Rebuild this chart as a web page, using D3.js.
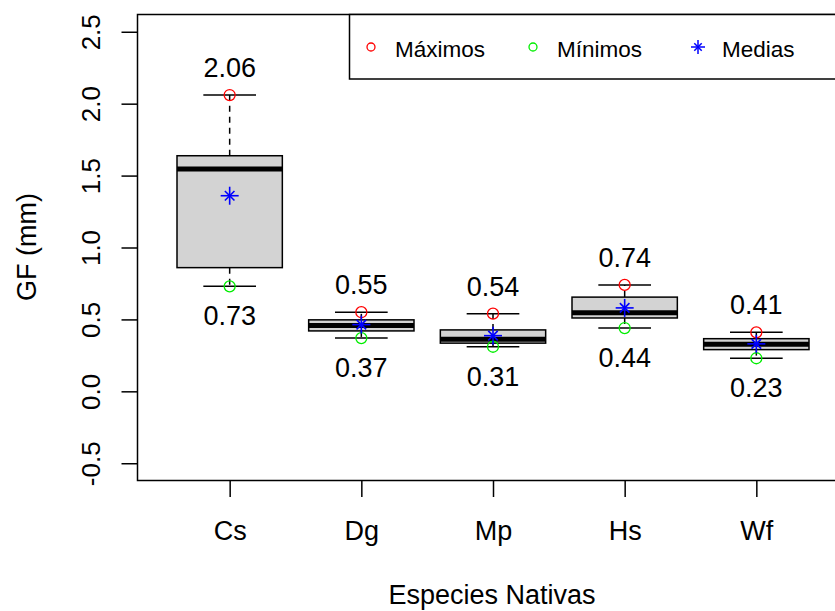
<!DOCTYPE html>
<meta charset="utf-8">
<script src="https://d3js.org/d3.v7.min.js"></script>
<body style="margin:0; background:#fff">
<div id="graph"></div>
</body>
<script>
    // Data
    var species = ["Cs", "Dg", "Mp", "Hs", "Wf"];
    var maxVals = [2.06, 0.55, 0.54, 0.74, 0.41];
    var minVals = [0.73, 0.37, 0.31, 0.44, 0.23];
    var q1 = [0.86, 0.42, 0.335, 0.51, 0.29];
    var medians = [1.545, 0.457, 0.362, 0.546, 0.327];
    var q3 = [1.638, 0.497, 0.427, 0.655, 0.366];
    var means = [1.36, 0.464, 0.387, 0.58, 0.33];
    var yTicks = [-0.5, 0, 0.5, 1, 1.5, 2, 2.5];
    var legendLabels = ["Máximos", "Mínimos", "Medias"];

    var width = 835, height = 611;
    var font = "'Liberation Sans', Arial, sans-serif";

    var svg = d3.select("#graph").append("svg")
        .attr("width", width)
        .attr("height", height)
        .style("font-family", font);

    // Scales (R style: 0.5..n+0.5 extended by 4%)
    var x = d3.scaleLinear().domain([0.3, 5.7]).range([137.5, 848.5]);
    var y = d3.scaleLinear().domain([-0.62, 2.62]).range([480.5, 14.5]);

    var data = species.map(function (s, i) {
        return {name: s, pos: i + 1, max: maxVals[i], min: minVals[i],
                q1: q1[i], med: medians[i], q3: q3[i], mean: means[i]};
    });

    // Y axis
    var yAxis = svg.append("g")
        .attr("transform", "translate(137.5,0)")
        .call(d3.axisLeft(y).tickValues(yTicks).tickSize(16).tickSizeOuter(0)
            .tickFormat(function (d) { return d3.format(".1f")(d).replace("\u2212", "-"); }));
    yAxis.select(".domain").remove();
    yAxis.selectAll(".tick line").attr("stroke", "#000").attr("stroke-width", 1.5);
    yAxis.selectAll(".tick text")
        .attr("x", 0).attr("y", 0)
        .attr("text-anchor", "middle")
        .attr("transform", "translate(-38,0) rotate(-90)")
        .attr("dy", 0)
        .style("font-size", "26px")
        .style("font-family", font)
        .attr("fill", "#000");

    // X axis
    var xAxis = svg.append("g")
        .attr("transform", "translate(0,481)")
        .call(d3.axisBottom(x).tickValues(data.map(function (d) { return d.pos; }))
            .tickSize(16).tickSizeOuter(0)
            .tickFormat(function (d) { return species[d - 1]; }));
    xAxis.select(".domain").remove();
    xAxis.selectAll(".tick line").attr("stroke", "#000").attr("stroke-width", 1.5);
    xAxis.selectAll(".tick text")
        .attr("y", 59).attr("dy", 0)
        .style("font-size", "27px")
        .style("font-family", font)
        .attr("fill", "#000");

    // Axis titles
    svg.append("text")
        .attr("x", 492).attr("y", 604)
        .attr("text-anchor", "middle")
        .style("font-size", "27px")
        .text("Especies Nativas");
    svg.append("text")
        .attr("transform", "translate(36,247) rotate(-90)")
        .attr("text-anchor", "middle")
        .style("font-size", "27px")
        .text("GF (mm)");

    var boxW = x(1.4) - x(1);
    var capW = x(1.2) - x(1);

    var boxes = svg.append("g").selectAll("g")
        .data(data).enter().append("g");

    // Dashed whiskers
    boxes.append("line")
        .attr("x1", function (d) { return x(d.pos); })
        .attr("x2", function (d) { return x(d.pos); })
        .attr("y1", function (d) { return y(d.q3); })
        .attr("y2", function (d) { return y(d.max); })
        .attr("stroke", "#000").attr("stroke-width", 1.5)
        .attr("stroke-dasharray", "6,5");
    boxes.append("line")
        .attr("x1", function (d) { return x(d.pos); })
        .attr("x2", function (d) { return x(d.pos); })
        .attr("y1", function (d) { return y(d.q1); })
        .attr("y2", function (d) { return y(d.min); })
        .attr("stroke", "#000").attr("stroke-width", 1.5)
        .attr("stroke-dasharray", "6,5");

    // Caps
    ["max", "min"].forEach(function (k) {
        boxes.append("line")
            .attr("x1", function (d) { return x(d.pos) - capW; })
            .attr("x2", function (d) { return x(d.pos) + capW; })
            .attr("y1", function (d) { return y(d[k]); })
            .attr("y2", function (d) { return y(d[k]); })
            .attr("stroke", "#000").attr("stroke-width", 1.5);
    });

    // Boxes
    boxes.append("rect")
        .attr("x", function (d) { return x(d.pos) - boxW; })
        .attr("width", 2 * boxW)
        .attr("y", function (d) { return y(d.q3); })
        .attr("height", function (d) { return y(d.q1) - y(d.q3); })
        .attr("fill", "#d3d3d3")
        .attr("stroke", "#000").attr("stroke-width", 1.5);

    // Medians
    boxes.append("line")
        .attr("x1", function (d) { return x(d.pos) - boxW; })
        .attr("x2", function (d) { return x(d.pos) + boxW; })
        .attr("y1", function (d) { return y(d.med); })
        .attr("y2", function (d) { return y(d.med); })
        .attr("stroke", "#000").attr("stroke-width", 5);

    // Max / min points
    boxes.append("circle")
        .attr("cx", function (d) { return x(d.pos); })
        .attr("cy", function (d) { return y(d.max); })
        .attr("r", 5.5)
        .attr("fill", "none").attr("stroke", "#ff0000").attr("stroke-width", 1.3);
    boxes.append("circle")
        .attr("cx", function (d) { return x(d.pos); })
        .attr("cy", function (d) { return y(d.min); })
        .attr("r", 5.5)
        .attr("fill", "none").attr("stroke", "#00ee00").attr("stroke-width", 1.3);

    // Asterisk marker
    function asterisk(g, cx, cy, r, w) {
        [0, 45, 90, 135].forEach(function (a) {
            var rad = a * Math.PI / 180;
            var rr = (a % 90 === 0) ? r : r * 0.75;
            g.append("line")
                .attr("x1", cx - rr * Math.cos(rad)).attr("y1", cy - rr * Math.sin(rad))
                .attr("x2", cx + rr * Math.cos(rad)).attr("y2", cy + rr * Math.sin(rad))
                .attr("stroke", "#0000ff").attr("stroke-width", w);
        });
    }
    boxes.each(function (d) {
        asterisk(d3.select(this), x(d.pos), y(d.mean), 9, 1.6);
    });

    // Value labels
    boxes.append("text")
        .attr("x", function (d) { return x(d.pos); })
        .attr("y", function (d) { return y(d.max) - 18; })
        .attr("text-anchor", "middle")
        .style("font-size", "27px")
        .text(function (d) { return d3.format(".2f")(d.max); });
    boxes.append("text")
        .attr("x", function (d) { return x(d.pos); })
        .attr("y", function (d) { return y(d.min) + 39; })
        .attr("text-anchor", "middle")
        .style("font-size", "27px")
        .text(function (d) { return d3.format(".2f")(d.min); });

    // Plot frame
    svg.append("rect")
        .attr("x", 137.5).attr("y", 14.5)
        .attr("width", 711).attr("height", 466)
        .attr("fill", "none").attr("stroke", "#000").attr("stroke-width", 1.5);

    // Legend
    var lg = svg.append("g");
    lg.append("rect")
        .attr("x", 349.5).attr("y", 14.5)
        .attr("width", 500).attr("height", 64.5)
        .attr("fill", "#fff").attr("stroke", "#000").attr("stroke-width", 1.5);
    var legX = [371, 533, 698];
    var legColors = ["#ff0000", "#00ee00", "#0000ff"];
    legendLabels.forEach(function (lab, i) {
        if (i < 2) {
            lg.append("circle")
                .attr("cx", legX[i]).attr("cy", 47)
                .attr("r", 4)
                .attr("fill", "none").attr("stroke", legColors[i]).attr("stroke-width", 1.3);
        } else {
            asterisk(lg, legX[i], 47, 7, 1.5);
        }
        lg.append("text")
            .attr("x", legX[i] + 24).attr("y", 57)
            .style("font-size", "22.5px")
            .text(lab);
    });
</script>
